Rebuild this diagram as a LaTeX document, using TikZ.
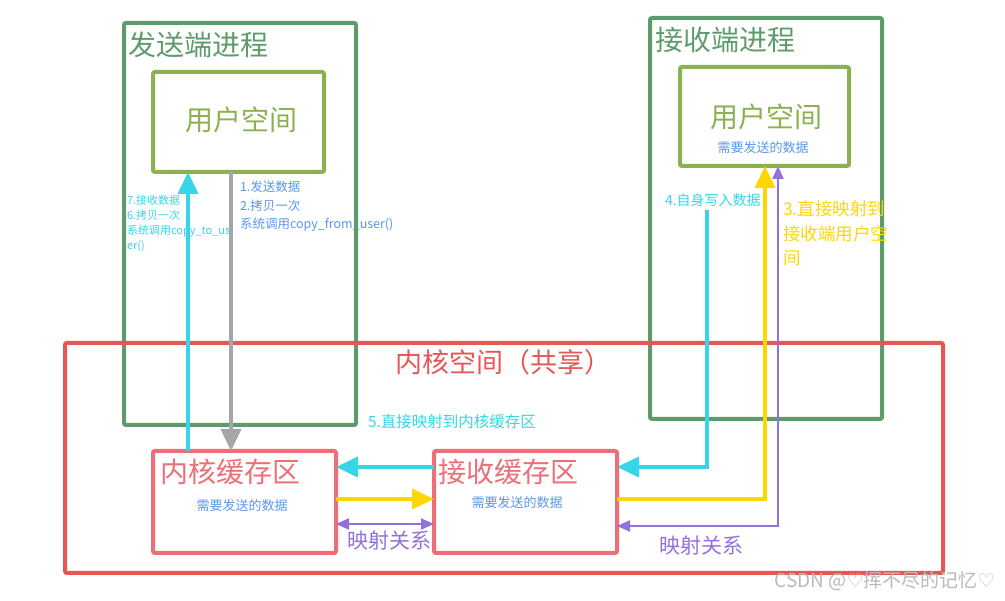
\documentclass[tikz,border=0pt]{standalone}
\usepackage{fontspec}
\setmainfont{Noto Sans CJK SC}
\newfontfamily\symfont{DejaVu Sans}
\usetikzlibrary{arrows.meta,calc}
\definecolor{dgreen}{RGB}{94,155,106}
\definecolor{olive}{RGB}{139,177,80}
\definecolor{kred}{RGB}{232,85,85}
\definecolor{bpink}{RGB}{238,110,120}
\definecolor{cyanc}{RGB}{54,214,232}
\definecolor{grayc}{RGB}{166,166,166}
\definecolor{yellowc}{RGB}{255,215,0}
\definecolor{purplec}{RGB}{147,112,219}
\definecolor{bluet}{RGB}{88,150,238}
\definecolor{wmark}{RGB}{185,185,185}
\tikzset{
  box/.style={draw, line width=4pt, rounded corners=2pt, inner sep=0pt, outer sep=0pt},
  txt/.style={inner sep=0pt, outer sep=0pt, align=left},
  bigarrow/.style={line width=4pt, -{Triangle[length=22pt,width=20pt]}},
  thinarrow/.style={line width=2pt, color=purplec, {Triangle[length=13pt,width=11pt]}-{Triangle[length=13pt,width=11pt]}},
}
\begin{document}
\begin{tikzpicture}[x=1pt,y=-1pt]
\useasboundingbox (0,0) rectangle (1005,601);
% process boxes
\node[box, draw=dgreen, minimum width=232pt, minimum height=402pt] (sendP) at (240,224) {};
\node[box, draw=dgreen, minimum width=232pt, minimum height=401pt] (recvP) at (766,218.5) {};
\node[box, draw=olive, minimum width=171pt, minimum height=100pt] (sendU) at (238.5,122) {};
\node[box, draw=olive, minimum width=169pt, minimum height=99pt] (recvU) at (764.5,116.5) {};
% kernel
\node[box, draw=kred, minimum width=878pt, minimum height=230pt] (kernel) at (504,458) {};
\node[box, draw=bpink, minimum width=183pt, minimum height=102pt] (kbuf) at (244.5,502) {};
\node[box, draw=bpink, minimum width=183pt, minimum height=102pt] (rbuf) at (525.5,502) {};

% titles
\node[txt, anchor=west, text=dgreen, font=\fontsize{28}{30}\selectfont] (t1) at (128,45) {发送端进程};
\node[txt, anchor=west, text=dgreen, font=\fontsize{28}{30}\selectfont] (t2) at (655,40) {接收端进程};
\node[txt, text=olive, font=\fontsize{28}{30}\selectfont] (t3) at (241,120) {用户空间};
\node[txt, text=olive, font=\fontsize{28}{30}\selectfont] (t4) at (766,117) {用户空间};
\node[txt, text=bluet, font=\fontsize{13}{14}\selectfont] (t5) at (763,148) {需要发送的数据};
\node[txt, text=kred, font=\fontsize{27}{30}\selectfont] (t6) at (503,362) {内核空间（共享）};
\node[txt, anchor=west, text=bpink, font=\fontsize{28}{30}\selectfont] (t7) at (160,472) {内核缓存区};
\node[txt, text=bluet, font=\fontsize{13}{14}\selectfont] (t8) at (242,506) {需要发送的数据};
\node[txt, anchor=west, text=bpink, font=\fontsize{28}{30}\selectfont] (t9) at (438,472) {接收缓存区};
\node[txt, text=bluet, font=\fontsize{13}{14}\selectfont] (t10) at (517,503) {需要发送的数据};

% connectors
\draw[bigarrow, cyanc] ([xshift=35pt]kbuf.north west) -- ([xshift=35pt]sendU.south west);
\draw[bigarrow, grayc] ([xshift=78pt]sendU.south west) -- ([xshift=78pt]kbuf.north west);
\draw[bigarrow, cyanc] ([yshift=35pt]rbuf.west) -- ([yshift=35pt]kbuf.east);
\draw[bigarrow, yellowc] ([yshift=3pt]kbuf.east) -- ([yshift=3pt]rbuf.west);
\draw[thinarrow] ([yshift=-22pt]kbuf.east) -- ([yshift=-22pt]rbuf.west);
\coordinate (c4) at (707,210);
\draw[bigarrow, cyanc] (c4) |- ([yshift=35pt]rbuf.east);
\draw[bigarrow, yellowc] ([yshift=3pt]rbuf.east) -| ([xshift=85pt]recvU.south west);
\draw[thinarrow] ([yshift=-24pt]rbuf.east) -| ([xshift=98pt]recvU.south west);

% labels
\node[txt, anchor=north west, text=cyanc, font=\fontsize{11}{15}\selectfont] (l7) at (127,195) {7.接收数据\\6.拷贝一次\\系统调用copy\_to\_us\\er()};
\node[txt, anchor=north west, text=bluet, font=\fontsize{12.5}{18.5}\selectfont] (l1) at (240,181) {1.发送数据\\2.拷贝一次\\系统调用copy\_from\_user()};
\node[txt, anchor=west, text=cyanc, font=\fontsize{14}{15}\selectfont] (l4) at (665,200) {4.自身写入数据};
\node[txt, anchor=north west, text=yellowc, font=\fontsize{17.5}{24.5}\selectfont] (l3) at (783,201) {3.直接映射到\\接收端用户空\\间};
\node[txt, anchor=west, text=cyanc, font=\fontsize{15.5}{16}\selectfont] (l5) at (368,422) {5.直接映射到内核缓存区};
\node[txt, text=purplec, font=\fontsize{21}{22}\selectfont] (m1) at (389,541) {映射关系};
\node[txt, text=purplec, font=\fontsize{21}{22}\selectfont] (m2) at (701,546) {映射关系};
\node[txt, text=wmark, font=\fontsize{19}{20}\selectfont] (wm) at (885,581) {CSDN @{\symfont ♡}挥不尽的记忆{\symfont ♡}};
\end{tikzpicture}
\end{document}
